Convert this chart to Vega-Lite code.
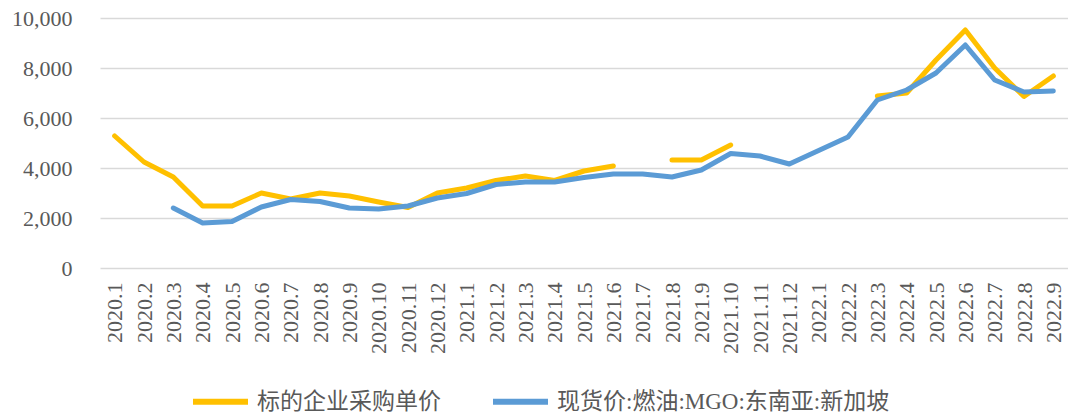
{
  "$schema": "https://vega.github.io/schema/vega-lite/v6.json",
  "width": 968,
  "height": 250,
  "autosize": {"type": "none"},
  "padding": {"left": 100, "top": 18, "right": 0, "bottom": 146},
  "background": "white",
  "config": {
    "view": {"stroke": null}
  },
  "data": {
    "values": [
      {"month": "2020.1", "series": "标的企业采购单价", "value": 5280},
      {"month": "2020.2", "series": "标的企业采购单价", "value": 4240},
      {"month": "2020.3", "series": "标的企业采购单价", "value": 3640},
      {"month": "2020.4", "series": "标的企业采购单价", "value": 2480},
      {"month": "2020.5", "series": "标的企业采购单价", "value": 2480},
      {"month": "2020.6", "series": "标的企业采购单价", "value": 3000},
      {"month": "2020.7", "series": "标的企业采购单价", "value": 2760},
      {"month": "2020.8", "series": "标的企业采购单价", "value": 3000},
      {"month": "2020.9", "series": "标的企业采购单价", "value": 2880},
      {"month": "2020.10", "series": "标的企业采购单价", "value": 2640},
      {"month": "2020.11", "series": "标的企业采购单价", "value": 2420},
      {"month": "2020.12", "series": "标的企业采购单价", "value": 3000},
      {"month": "2021.1", "series": "标的企业采购单价", "value": 3200},
      {"month": "2021.2", "series": "标的企业采购单价", "value": 3500},
      {"month": "2021.3", "series": "标的企业采购单价", "value": 3680},
      {"month": "2021.4", "series": "标的企业采购单价", "value": 3500},
      {"month": "2021.5", "series": "标的企业采购单价", "value": 3880},
      {"month": "2021.6", "series": "标的企业采购单价", "value": 4080},
      {"month": "2021.7", "series": "标的企业采购单价", "value": null},
      {"month": "2021.8", "series": "标的企业采购单价", "value": 4320},
      {"month": "2021.9", "series": "标的企业采购单价", "value": 4320},
      {"month": "2021.10", "series": "标的企业采购单价", "value": 4920},
      {"month": "2021.11", "series": "标的企业采购单价", "value": null},
      {"month": "2021.12", "series": "标的企业采购单价", "value": null},
      {"month": "2022.1", "series": "标的企业采购单价", "value": null},
      {"month": "2022.2", "series": "标的企业采购单价", "value": null},
      {"month": "2022.3", "series": "标的企业采购单价", "value": 6880},
      {"month": "2022.4", "series": "标的企业采购单价", "value": 7000},
      {"month": "2022.5", "series": "标的企业采购单价", "value": 8320},
      {"month": "2022.6", "series": "标的企业采购单价", "value": 9520},
      {"month": "2022.7", "series": "标的企业采购单价", "value": 8000},
      {"month": "2022.8", "series": "标的企业采购单价", "value": 6860},
      {"month": "2022.9", "series": "标的企业采购单价", "value": 7680},
      {"month": "2020.1", "series": "现货价:燃油:MGO:东南亚:新加坡", "value": null},
      {"month": "2020.2", "series": "现货价:燃油:MGO:东南亚:新加坡", "value": null},
      {"month": "2020.3", "series": "现货价:燃油:MGO:东南亚:新加坡", "value": 2400},
      {"month": "2020.4", "series": "现货价:燃油:MGO:东南亚:新加坡", "value": 1800},
      {"month": "2020.5", "series": "现货价:燃油:MGO:东南亚:新加坡", "value": 1860},
      {"month": "2020.6", "series": "现货价:燃油:MGO:东南亚:新加坡", "value": 2440},
      {"month": "2020.7", "series": "现货价:燃油:MGO:东南亚:新加坡", "value": 2740},
      {"month": "2020.8", "series": "现货价:燃油:MGO:东南亚:新加坡", "value": 2660},
      {"month": "2020.9", "series": "现货价:燃油:MGO:东南亚:新加坡", "value": 2400},
      {"month": "2020.10", "series": "现货价:燃油:MGO:东南亚:新加坡", "value": 2360},
      {"month": "2020.11", "series": "现货价:燃油:MGO:东南亚:新加坡", "value": 2480},
      {"month": "2020.12", "series": "现货价:燃油:MGO:东南亚:新加坡", "value": 2800},
      {"month": "2021.1", "series": "现货价:燃油:MGO:东南亚:新加坡", "value": 2980},
      {"month": "2021.2", "series": "现货价:燃油:MGO:东南亚:新加坡", "value": 3340},
      {"month": "2021.3", "series": "现货价:燃油:MGO:东南亚:新加坡", "value": 3440},
      {"month": "2021.4", "series": "现货价:燃油:MGO:东南亚:新加坡", "value": 3440},
      {"month": "2021.5", "series": "现货价:燃油:MGO:东南亚:新加坡", "value": 3620},
      {"month": "2021.6", "series": "现货价:燃油:MGO:东南亚:新加坡", "value": 3760},
      {"month": "2021.7", "series": "现货价:燃油:MGO:东南亚:新加坡", "value": 3760},
      {"month": "2021.8", "series": "现货价:燃油:MGO:东南亚:新加坡", "value": 3640},
      {"month": "2021.9", "series": "现货价:燃油:MGO:东南亚:新加坡", "value": 3920},
      {"month": "2021.10", "series": "现货价:燃油:MGO:东南亚:新加坡", "value": 4580},
      {"month": "2021.11", "series": "现货价:燃油:MGO:东南亚:新加坡", "value": 4480},
      {"month": "2021.12", "series": "现货价:燃油:MGO:东南亚:新加坡", "value": 4160},
      {"month": "2022.1", "series": "现货价:燃油:MGO:东南亚:新加坡", "value": 4700},
      {"month": "2022.2", "series": "现货价:燃油:MGO:东南亚:新加坡", "value": 5240},
      {"month": "2022.3", "series": "现货价:燃油:MGO:东南亚:新加坡", "value": 6720},
      {"month": "2022.4", "series": "现货价:燃油:MGO:东南亚:新加坡", "value": 7120},
      {"month": "2022.5", "series": "现货价:燃油:MGO:东南亚:新加坡", "value": 7800},
      {"month": "2022.6", "series": "现货价:燃油:MGO:东南亚:新加坡", "value": 8920},
      {"month": "2022.7", "series": "现货价:燃油:MGO:东南亚:新加坡", "value": 7520},
      {"month": "2022.8", "series": "现货价:燃油:MGO:东南亚:新加坡", "value": 7040},
      {"month": "2022.9", "series": "现货价:燃油:MGO:东南亚:新加坡", "value": 7080}
    ]
  },
  "mark": {"type": "line", "strokeWidth": 5, "strokeJoin": "round", "strokeCap": "round", "invalid": "break-paths-show-domains"},
  "encoding": {
    "x": {
      "field": "month",
      "type": "ordinal",
      "scale": {"domain": ["2020.1","2020.2","2020.3","2020.4","2020.5","2020.6","2020.7","2020.8","2020.9","2020.10","2020.11","2020.12","2021.1","2021.2","2021.3","2021.4","2021.5","2021.6","2021.7","2021.8","2021.9","2021.10","2021.11","2021.12","2022.1","2022.2","2022.3","2022.4","2022.5","2022.6","2022.7","2022.8","2022.9"]},
      "axis": {"title": null, "labelAngle": -90, "domain": false, "ticks": false, "labelPadding": 14, "grid": false, "labelFont": "Liberation Serif", "labelFontSize": 22, "labelColor": "#595959"}
    },
    "y": {
      "field": "value",
      "type": "quantitative",
      "scale": {"domain": [0, 10000]},
      "axis": {"title": null, "values": [0, 2000, 4000, 6000, 8000, 10000], "format": ",d", "domain": false, "ticks": false, "labelPadding": 28, "gridColor": "#D9D9D9", "gridWidth": 1.5, "labelFont": "Liberation Serif", "labelFontSize": 22, "labelColor": "#595959"}
    },
    "color": {
      "field": "series",
      "type": "nominal",
      "scale": {"domain": ["标的企业采购单价", "现货价:燃油:MGO:东南亚:新加坡"], "range": ["#FFC000", "#5B9BD5"]},
      "legend": {
        "title": null,
        "orient": "none",
        "direction": "horizontal",
        "legendX": 90,
        "legendY": 353,
        "symbolType": "stroke",
        "symbolSize": 3025,
        "symbolStrokeWidth": 6,
        "labelOffset": 6,
        "columnPadding": 40,
        "labelLimit": 500,
        "labelFont": "Liberation Serif, Noto Sans CJK SC",
        "labelFontSize": 23,
        "labelColor": "#595959"
      }
    }
  }
}
